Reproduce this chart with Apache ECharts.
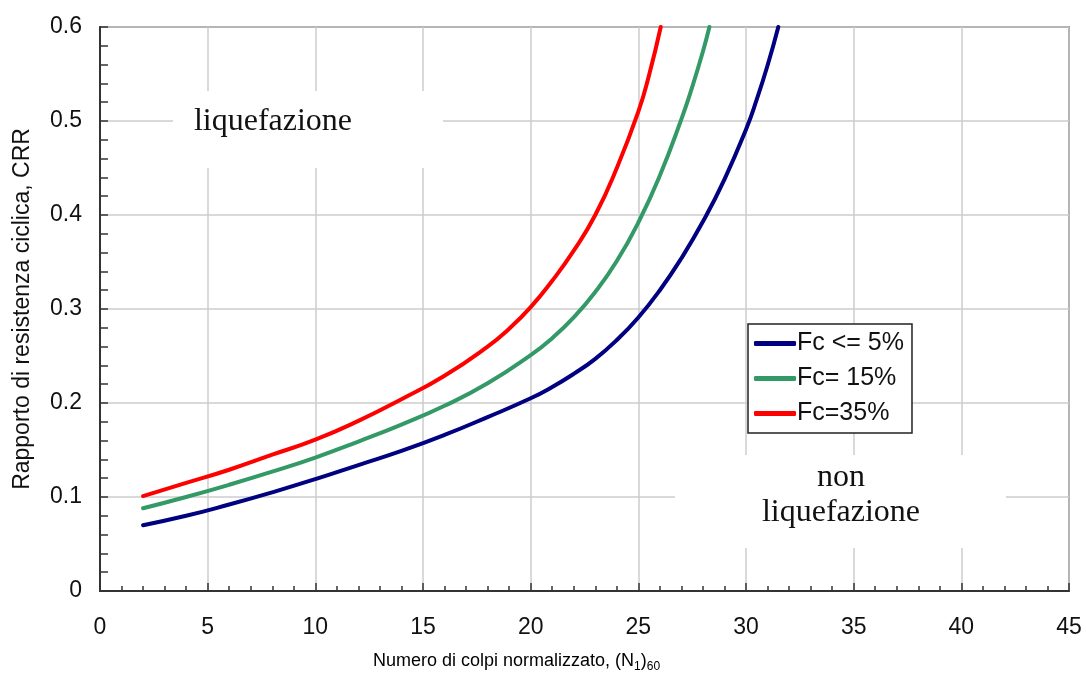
<!DOCTYPE html>
<html>
<head>
<meta charset="utf-8">
<script src="https://cdn.jsdelivr.net/npm/echarts@6/dist/echarts.min.js"></script>
<style>
  html, body { margin: 0; padding: 0; background: #fff; }
  #chart { width: 1086px; height: 679px; }
</style>
</head>
<body>
<div id="chart"></div>
<script>
/* global echarts */

// values
const nClean = [2, 4, 6, 8, 10, 12, 14, 16, 18, 20, 21, 22, 23, 24, 25, 26, 27, 28, 29, 30, 30.5, 31, 31.5];
const crrClean = [0.070, 0.080, 0.092, 0.105, 0.119, 0.134, 0.149, 0.166, 0.185, 0.205, 0.217, 0.231, 0.247, 0.267, 0.291, 0.320, 0.354, 0.393, 0.438, 0.491, 0.523, 0.559, 0.600];

const nFc15 = [2, 4, 6, 8, 10, 12, 14, 16, 18, 20, 21, 22, 23, 24, 25, 26, 27, 27.5, 28, 28.3];
const crrFc15 = [0.088, 0.100, 0.113, 0.127, 0.142, 0.159, 0.177, 0.197, 0.221, 0.251, 0.269, 0.291, 0.318, 0.351, 0.392, 0.442, 0.502, 0.536, 0.574, 0.600];

const nFc35 = [2, 4, 6, 8, 10, 12, 14, 16, 18, 19, 20, 21, 22, 23, 24, 25, 25.5, 26.04];
const crrFc35 = [0.101, 0.115, 0.129, 0.145, 0.161, 0.181, 0.204, 0.229, 0.260, 0.279, 0.302, 0.330, 0.362, 0.400, 0.450, 0.510, 0.549, 0.600];

const seriesNames = ["Fc <= 5%", "Fc= 15%", "Fc=35%"];
const seriesColors = ["#000080", "#339966", "#ff0000"];

const X_MIN = 0, X_MAX = 45, X_STEP = 5;
const Y_MIN = 0, Y_MAX = 0.6, Y_STEP = 0.1;

const sansFont = "Liberation Sans, Arial, sans-serif";
const serifFont = "Liberation Serif, Times New Roman, serif";
const tickFont = { fontFamily: sansFont, fontSize: 23, color: "#111" };

function pairs(xs, ys) {
  return xs.map((x, i) => [x, ys[i]]);
}

function buildSeries(name, color, xs, ys) {
  return {
    name: name,
    type: "line",
    data: pairs(xs, ys),
    smooth: 0.5,
    symbol: "none",
    color: color,
    lineStyle: { color: color, width: 4, cap: "round", join: "round" },
    z: 5,
  };
}

const chart = echarts.init(document.getElementById("chart"), null, { renderer: "canvas" });

const option = {
  animation: false,
  backgroundColor: "#fff",
  grid: {
    left: 100,
    right: 17,
    top: 27,
    bottom: 88,
    show: true,
    borderColor: "#444",
    borderWidth: 1.5,
    backgroundColor: "transparent",
  },
  legend: {
    orient: "vertical",
    left: 748,
    top: 324,
    data: seriesNames,
    icon: "roundRect",
    itemWidth: 42,
    itemHeight: 5,
    itemGap: 10,
    padding: [7, 8, 7, 6],
    borderColor: "#222",
    borderWidth: 1.5,
    backgroundColor: "#fff",
    textStyle: { fontFamily: sansFont, fontSize: 25, color: "#111", padding: [0, 0, 0, -4] },
    z: 10,
  },
  xAxis: {
    type: "value",
    min: X_MIN,
    max: X_MAX,
    interval: X_STEP,
    axisLine: { lineStyle: { color: "#333", width: 2 } },
    axisTick: { inside: true, length: 8, lineStyle: { color: "#333", width: 1.5 } },
    minorTick: { show: true, splitNumber: 5, length: 5, lineStyle: { color: "#333", width: 1.5 } },
    axisLabel: Object.assign({ margin: 25 }, tickFont),
    splitLine: { show: true, lineStyle: { color: "#cccccc", width: 1.5 } },
  },
  yAxis: {
    type: "value",
    min: Y_MIN,
    max: Y_MAX,
    interval: Y_STEP,
    name: "Rapporto di resistenza ciclica, CRR",
    nameLocation: "middle",
    nameGap: 66,
    nameTextStyle: { fontFamily: sansFont, fontSize: 23, color: "#111" },
    axisLine: { lineStyle: { color: "#333", width: 2 } },
    axisTick: { inside: true, length: 8, lineStyle: { color: "#333", width: 1.5 } },
    minorTick: { show: true, splitNumber: 5, length: 8, lineStyle: { color: "#333", width: 1.5 } },
    axisLabel: Object.assign({ margin: 18, formatter: (v) => (v === 0 ? "0" : v.toFixed(1)) }, tickFont),
    splitLine: { show: true, lineStyle: { color: "#cccccc", width: 1.5 } },
  },
  graphic: [
    // white patches behind the region labels
    { type: "rect", left: 173, top: 91, shape: { width: 270, height: 77 }, style: { fill: "#fff" }, z: 1 },
    {
      type: "text", x: 273, y: 122, z: 2,
      style: { text: "liquefazione", font: "32px " + serifFont, fill: "#111", align: "center", verticalAlign: "middle" },
    },
    { type: "rect", left: 675, top: 455, shape: { width: 331, height: 93 }, style: { fill: "#fff" }, z: 1 },
    {
      type: "text", x: 841, y: 478, z: 2,
      style: { text: "non", font: "32px " + serifFont, fill: "#111", align: "center", verticalAlign: "middle" },
    },
    {
      type: "text", x: 841, y: 513, z: 2,
      style: { text: "liquefazione", font: "32px " + serifFont, fill: "#111", align: "center", verticalAlign: "middle" },
    },
    {
      type: "text", left: 373, top: 652, z: 2,
      style: {
        text: "{m|Numero di colpi normalizzato, (N}{s|1}{m|)}{s|60}",
        rich: {
          m: { fontFamily: sansFont, fontSize: 18, color: "#111", lineHeight: 20 },
          s: { fontFamily: sansFont, fontSize: 12, color: "#111", padding: [12, 0, 0, 0] },
        },
      },
    },
  ],
  series: [
    buildSeries(seriesNames[0], seriesColors[0], nClean, crrClean),
    buildSeries(seriesNames[1], seriesColors[1], nFc15, crrFc15),
    buildSeries(seriesNames[2], seriesColors[2], nFc35, crrFc35),
  ],
};

chart.setOption(option);
</script>
</body>
</html>
